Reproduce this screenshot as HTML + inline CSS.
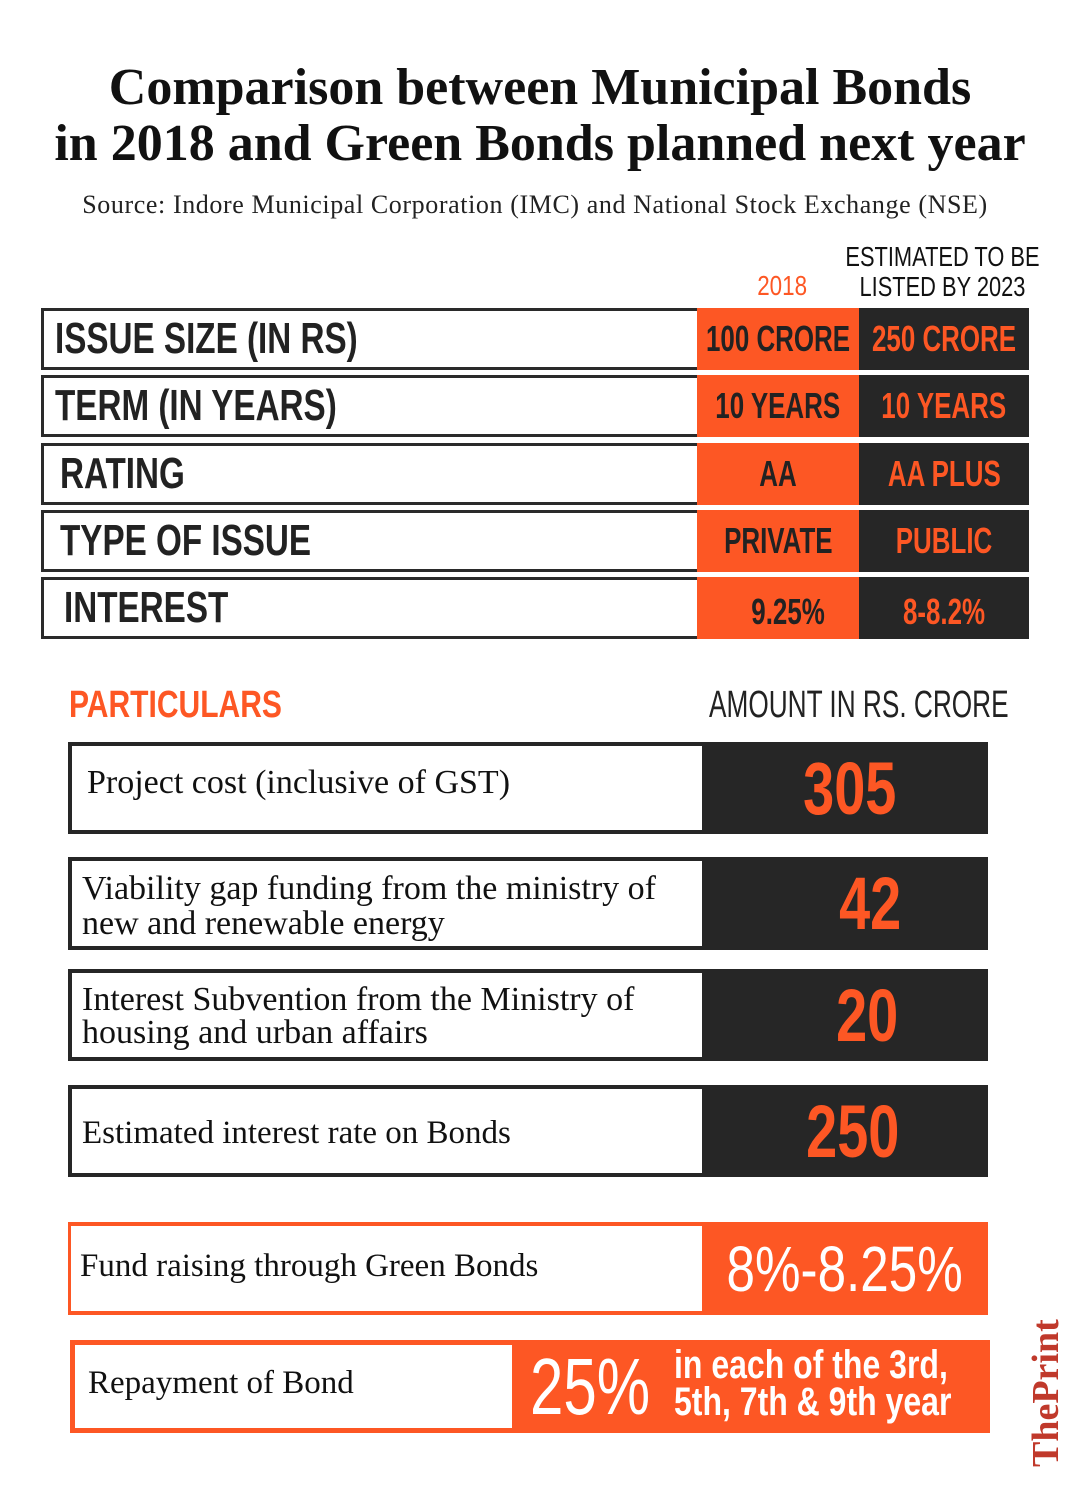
<!DOCTYPE html>
<html><head><meta charset="utf-8"><style>
body{margin:0;background:#fff;}
#page{position:relative;width:1080px;height:1487px;background:#fff;overflow:hidden;font-family:"Liberation Sans",sans-serif;}
.a{position:absolute;box-sizing:border-box;}
.serif{font-family:"Liberation Serif",serif;}
.nar{font-family:"Liberation Sans Narrow","Liberation Sans",sans-serif;font-weight:bold;}
.sx{display:inline-block;transform:scaleX(0.755);white-space:nowrap;}
.lb{transform-origin:left;}
.v{transform:scaleX(0.72);}
.row{border:3px solid #2a2a2a;border-right:none;background:#fff;}
.flex{display:flex;align-items:center;justify-content:center;}
.or{background:#fd5724;}
.dk{background:#262626;}
</style></head><body>
<div id="page">
<div class="a serif" style="left:0;top:60px;width:1080px;text-align:center;font-size:52px;line-height:56px;font-weight:bold;color:#111;white-space:nowrap;">Comparison between Municipal Bonds<br>in 2018 and Green Bonds planned next year</div>
<div class="a serif" style="left:0;top:190px;width:1070px;text-align:center;font-size:26px;letter-spacing:0.6px;color:#222;white-space:nowrap;">Source: Indore Municipal Corporation (IMC) and National Stock Exchange (NSE)</div>

<div class="a nar flex" style="left:697px;top:268px;width:170px;height:36px;color:#fd5724;font-size:28px;font-weight:normal;"><span class="sx" style="transform:scaleX(0.8)">2018</span></div>
<div class="a nar" style="left:818px;top:242px;width:210px;text-align:center;font-size:28px;line-height:30px;font-weight:normal;color:#111;"><span class="sx" style="transform:scaleX(0.78)">ESTIMATED TO BE<br>LISTED BY 2023</span></div>

<div class="a row" style="left:41px;top:308px;width:656px;height:62px;"></div>
<div class="a nar" style="left:55px;top:314px;font-size:44px;color:#222;"><span class="sx lb">ISSUE SIZE (IN RS)</span></div>
<div class="a or nar flex" style="left:697px;top:308px;width:162px;height:62px;font-size:36px;color:#222;"><span class="sx v">100 CRORE</span></div>
<div class="a dk nar flex" style="left:859px;top:308px;width:170px;height:62px;font-size:36px;color:#fd5724;"><span class="sx v">250 CRORE</span></div>

<div class="a row" style="left:41px;top:375px;width:656px;height:62px;"></div>
<div class="a nar" style="left:55px;top:381px;font-size:44px;color:#222;"><span class="sx lb">TERM (IN YEARS)</span></div>
<div class="a or nar flex" style="left:697px;top:375px;width:162px;height:62px;font-size:36px;color:#222;"><span class="sx v">10 YEARS</span></div>
<div class="a dk nar flex" style="left:859px;top:375px;width:170px;height:62px;font-size:36px;color:#fd5724;"><span class="sx v">10 YEARS</span></div>

<div class="a row" style="left:41px;top:443px;width:656px;height:62px;"></div>
<div class="a nar" style="left:60px;top:449px;font-size:44px;color:#222;"><span class="sx lb">RATING</span></div>
<div class="a or nar flex" style="left:697px;top:443px;width:162px;height:62px;font-size:36px;color:#222;"><span class="sx v">AA</span></div>
<div class="a dk nar flex" style="left:859px;top:443px;width:170px;height:62px;font-size:36px;color:#fd5724;"><span class="sx v">AA PLUS</span></div>

<div class="a row" style="left:41px;top:510px;width:656px;height:62px;"></div>
<div class="a nar" style="left:60px;top:516px;font-size:44px;color:#222;"><span class="sx lb">TYPE OF ISSUE</span></div>
<div class="a or nar flex" style="left:697px;top:510px;width:162px;height:62px;font-size:36px;color:#222;"><span class="sx v">PRIVATE</span></div>
<div class="a dk nar flex" style="left:859px;top:510px;width:170px;height:62px;font-size:36px;color:#fd5724;"><span class="sx v">PUBLIC</span></div>

<div class="a row" style="left:41px;top:577px;width:656px;height:62px;"></div>
<div class="a nar" style="left:64px;top:583px;font-size:44px;color:#222;"><span class="sx lb">INTEREST</span></div>
<div class="a or nar flex" style="left:697px;top:577px;width:162px;height:62px;font-size:36px;color:#222;padding-left:20px;padding-top:8px;"><span class="sx v">9.25%</span></div>
<div class="a dk nar flex" style="left:859px;top:577px;width:170px;height:62px;font-size:36px;color:#fd5724;padding-top:8px;"><span class="sx v">8-8.2%</span></div>

<div class="a nar" style="left:69px;top:684px;font-size:38px;color:#fd5724;"><span class="sx lb" style="transform:scaleX(0.79)">PARTICULARS</span></div>
<div class="a nar" style="left:709px;top:684px;font-size:38px;color:#222;font-weight:normal;"><span class="sx lb" style="transform:scaleX(0.69)">AMOUNT IN RS. CRORE</span></div>

<div class="a dk" style="left:68px;top:742px;width:920px;height:92px;"></div>
<div class="a serif" style="left:72px;top:746px;width:630px;height:84px;background:#fff;font-size:34px;color:#111;padding:18px 0 0 15px;white-space:nowrap;">Project cost (inclusive of GST)</div>
<div class="a nar flex" style="left:707px;top:742px;width:286px;height:92px;font-size:74px;color:#fd5724;"><span class="sx">305</span></div>

<div class="a dk" style="left:68px;top:857px;width:920px;height:93px;"></div>
<div class="a serif" style="left:72px;top:861px;width:630px;height:85px;background:#fff;font-size:34px;line-height:35px;color:#111;padding:10px 0 0 10px;white-space:nowrap;">Viability gap funding from the ministry of<br>new and renewable energy</div>
<div class="a nar flex" style="left:727px;top:857px;width:286px;height:93px;font-size:74px;color:#fd5724;"><span class="sx">42</span></div>

<div class="a dk" style="left:68px;top:969px;width:920px;height:92px;"></div>
<div class="a serif" style="left:72px;top:973px;width:630px;height:84px;background:#fff;font-size:34px;line-height:33px;color:#111;padding:10px 0 0 10px;white-space:nowrap;">Interest Subvention from the Ministry of<br>housing and urban affairs</div>
<div class="a nar flex" style="left:724px;top:969px;width:286px;height:92px;font-size:74px;color:#fd5724;"><span class="sx">20</span></div>

<div class="a dk" style="left:68px;top:1085px;width:920px;height:92px;"></div>
<div class="a serif" style="left:72px;top:1089px;width:630px;height:84px;background:#fff;font-size:33px;color:#111;padding:26px 0 0 10px;white-space:nowrap;">Estimated interest rate on Bonds</div>
<div class="a nar flex" style="left:710px;top:1085px;width:286px;height:92px;font-size:74px;color:#fd5724;"><span class="sx">250</span></div>

<div class="a or" style="left:68px;top:1222px;width:920px;height:93px;"></div>
<div class="a serif" style="left:71px;top:1226px;width:631px;height:85px;background:#fff;font-size:33px;color:#111;padding:22px 0 0 9px;white-space:nowrap;">Fund raising through Green Bonds</div>
<div class="a nar flex" style="left:702px;top:1222px;width:286px;height:93px;font-size:64px;color:#fff;font-weight:normal;"><span class="sx" style="transform:scaleX(0.8)">8%-8.25%</span></div>

<div class="a or" style="left:70px;top:1340px;width:920px;height:93px;"></div>
<div class="a serif" style="left:75px;top:1345px;width:437px;height:83px;background:#fff;font-size:33px;color:#111;padding:20px 0 0 13px;white-space:nowrap;">Repayment of Bond</div>
<div class="a nar" style="left:530px;top:1340px;font-size:80px;line-height:93px;color:#fff;font-weight:normal;"><span class="sx lb" style="transform:scaleX(0.75)">25%</span></div>
<div class="a nar" style="left:674px;top:1347px;font-size:40px;line-height:37px;color:#fff;"><span class="sx lb" style="transform:scaleX(0.8)">in each of the 3rd,<br>5th, 7th &amp; 9th year</span></div>

<div class="a serif" style="left:1024px;top:1467px;font-size:38px;font-weight:bold;color:#c0392b;transform:rotate(-90deg);transform-origin:left top;white-space:nowrap;">ThePrint</div>
</div>
</body></html>
